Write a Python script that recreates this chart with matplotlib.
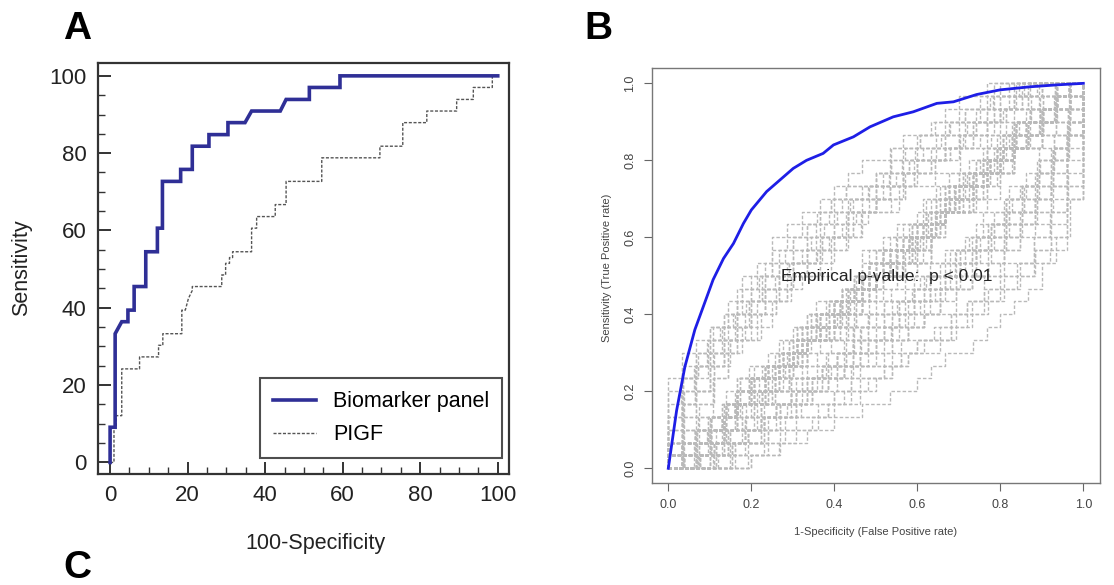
import matplotlib
matplotlib.use("Agg")
import matplotlib.pyplot as plt

plt.rcParams['font.family'] = ['Liberation Sans', 'DejaVu Sans']

# ---------------- Panel A data (step ROC vertices, percent) ----------------
bio_x = [0, 0, 1.3, 1.3, 3.0, 4.6, 4.6, 6.2, 6.2, 9.2, 9.2, 12.2, 12.2, 13.5, 13.5,
         18.2, 18.2, 21.2, 21.2, 25.5, 25.5, 30.4, 30.4, 34.8, 36.5, 43.9, 45.4,
         51.4, 51.4, 59.3, 59.3, 100]
bio_y = [0, 9.1, 9.1, 33.3, 36.4, 36.4, 39.4, 39.4, 45.5, 45.5, 54.5, 54.5, 60.6,
         60.6, 72.7, 72.7, 75.8, 75.8, 81.8, 81.8, 84.8, 84.8, 87.9, 87.9, 90.9,
         90.9, 93.9, 93.9, 97.0, 97.0, 100, 100]

pigf_x = [0, 1.0, 1.0, 1.6, 1.6, 3.0, 3.0, 7.6, 7.6, 12.5, 12.5, 13.6, 13.6, 18.5,
          18.5, 19.4, 20.2, 21.2, 21.2, 28.8, 28.8, 29.8, 29.8, 30.8, 30.8, 31.6,
          31.6, 36.5, 36.5, 37.8, 37.8, 42.6, 42.6, 45.4, 45.4, 54.6, 54.6, 69.6,
          69.6, 75.5, 75.5, 81.7, 81.7, 89.4, 89.4, 93.7, 93.7, 98.6, 98.6, 100]
pigf_y = [0, 0, 9.1, 9.1, 12.1, 12.1, 24.2, 24.2, 27.3, 27.3, 30.3, 30.3, 33.3, 33.3,
          39.4, 39.4, 42.4, 44.5, 45.5, 45.5, 48.5, 48.5, 51.5, 51.5, 53.0, 53.0,
          54.5, 54.5, 60.6, 60.6, 63.6, 63.6, 66.7, 66.7, 72.7, 72.7, 78.8, 78.8,
          81.8, 81.8, 87.9, 87.9, 90.9, 90.9, 93.9, 93.9, 97.0, 97.0, 100, 100]

a_ticks = [0, 20, 40, 60, 80, 100]
legend_labels = ["Biomarker panel", "PIGF"]

# ---------------- Panel B data ----------------
roc_fpr = [0.0, 0.02, 0.04, 0.064, 0.108, 0.133, 0.157, 0.181, 0.2, 0.237, 0.269,
           0.301, 0.333, 0.373, 0.398, 0.446, 0.486, 0.542, 0.59, 0.647, 0.687,
           0.743, 0.799, 0.871, 0.936, 1.0]
roc_tpr = [0.0, 0.15, 0.264, 0.36, 0.49, 0.545, 0.584, 0.636, 0.671, 0.719, 0.749,
           0.779, 0.80, 0.818, 0.84, 0.861, 0.887, 0.913, 0.926, 0.948, 0.952,
           0.971, 0.983, 0.991, 0.996, 1.0]

# permuted-label ROC curves: digit i = false positives before the i-th true positive,
# last digit = trailing false positives (spaces are only for readability)
perm_curves = [
    # outer envelopes
    "0000000 10111 1011111 10111 21 2112 7",
    "6222 22 21 121 111 1010 100100 000000 0",
    "00000 01011 01111 11011 12111 12121 6",
    "00001 00101 11011 11111 12111 21211 5",
    "52111 21112 11111 10110 01000 00000 0",
    "31211 21211 11111 11011 00100 00000 0",
    # upper side
    "00100 01011 10111 11021 11211 12112 4",
    "00010 10010 11110 21101 12121 11212 5",
    "01000 11010 11101 12011 21112 12111 4",
    "00001 00111 01111 11210 21121 21112 3",
    "10001 01011 01111 21110 12112 11121 3",
    "00100 10101 11011 12111 11112 21211 4",
    "00000 11010 11110 11211 12111 22112 5",
    "01010 01011 10111 11110 21112 11212 3",
    "00200 10010 20101 10120 01302 11210 4",
    "10000 02001 10210 11021 20130 21011 3",
    "00010 20100 12010 02110 31021 10211 4",
    "01002 00101 10021 20110 12201 21030 3",
    "00100 00101 01010 11012 11210 21211 6",
    "01000 00110 10101 10110 21211 12121 5",
    # upper-middle
    "20130 10211 02101 31010 20112 01102 2",
    "01201 20110 13010 21102 01210 11021 1",
    "10302 01120 10211 20101 12010 30111 1",
    "02110 31001 20121 10210 02301 10120 2",
    "11020 12101 30102 01121 10201 21011 1",
    "30101 10210 21011 01302 11010 20211 1",
    "10211 02031 10110 21200 11021 01210 2",
    "21010 11300 20112 10201 03110 11201 1",
    "01130 21010 11202 00311 21011 10120 2",
    "12001 10220 10131 02011 10201 20111 1",
    "00211 31020 11011 20130 01121 01201 2",
    "20011 20102 31101 01120 10310 11011 1",
    "11101 20021 01302 11010 21101 02110 2",
    "03011 10120 21011 01102 31001 10211 1",
    "10120 02111 30010 12101 10311 02010 2",
    "21102 01011 20131 00210 21011 10102 1",
    "12010 30101 02111 21020 10102 11210 1",
    "01021 10301 21010 11021 02110 31101 1",
    "20201 01110 13011 00211 20120 01112 2",
    "10012 21011 01201 30110 11020 12101 1",
    # diagonal
    "20120 01301 11021 30110 02102 10211 0",
    "01301 21011 10301 12011 00311 20120 0",
    "11021 13001 02102 01211 30110 10112 1",
    "30110 00221 12101 20201 01130 02111 0",
    "02102 10211 22010 03011 10031 21011 1",
    "10211 20030 11102 01301 12011 00311 0",
    "21011 02102 00311 13001 20120 11021 0",
    "01130 31001 10112 22010 01211 10301 1",
    "12011 11102 30110 00221 02111 20201 0",
    "00311 20120 01211 10211 31001 12101 0",
    "13001 01130 21011 02102 10112 03011 1",
    "20030 12011 01301 11021 00221 22010 0",
    "11102 10301 20201 01130 21011 00311 0",
    "03011 22010 10031 20120 11102 01211 1",
    "10301 00221 12011 31001 01130 10211 0",
    "22010 02111 11021 10112 20030 01301 0",
    "01211 30110 02102 12101 00311 11021 1",
    "10112 21011 00221 13001 10301 20120 0",
    "31001 01211 20030 11102 02111 12011 0",
    "00221 10031 22010 01211 21011 03011 1",
    # lower-middle
    "21120 11302 01211 20110 21011 10100 0",
    "13010 22101 10211 03121 10100 11010 0",
    "30211 10121 21010 11202 01110 10010 0",
    "22011 12030 11201 21110 10201 01100 0",
    "11301 20211 01121 30011 01101 10010 0",
    "40110 21101 12021 10111 20101 01000 0",
    "12201 30112 01021 11301 10100 10100 0",
    "21031 10211 20110 12101 01110 11000 0",
    "31201 12011 02211 10121 11001 01000 0",
    "20310 21120 10211 21011 01110 10100 0",
    # lower side
    "21121 11211 11111 11101 11010 10100 0",
    "31112 11111 21111 11110 11011 01000 0",
    "12121 21111 11111 11111 01101 00100 0",
    "22111 12111 11111 10111 11010 01000 0",
    "31211 11121 11111 11011 01100 01000 0",
    "41111 12111 11111 11111 11010 00000 0",
    "42112 11211 11111 11100 10100 00000 0",
    "51121 11111 21111 11100 01000 00000 0",
    "30212 10301 21102 10201 10100 01000 0",
    "23012 02130 11201 20110 01010 00100 0",
    "12310 20211 03101 21012 00100 10000 0",
    "40203 11021 30110 12010 10001 00000 0",
]
b_ticks = [0.0, 0.2, 0.4, 0.6, 0.8, 1.0]
b_ticklabels = ["0.0", "0.2", "0.4", "0.6", "0.8", "1.0"]

# ---------------- Figure ----------------
fig = plt.figure(figsize=(11.14, 5.85), dpi=100)

# ---- Panel A ----
axA = fig.add_axes([0.0877, 0.1897, 0.3692, 0.7031])
axA.plot(bio_x, bio_y, color='#2f2f96', lw=2.6, solid_joinstyle='miter',
         label=legend_labels[0], zorder=3)
axA.plot(pigf_x, pigf_y, color='#555555', lw=1.0, linestyle=(0, (2.2, 1.2)),
         label=legend_labels[1], zorder=2)
axA.set_xlim(-3.2, 102.9)
axA.set_ylim(-3.0, 103.4)
axA.set_xticks(a_ticks)
axA.set_yticks(a_ticks)
axA.set_xticks(range(0, 101, 5), minor=True)
axA.set_yticks(range(0, 101, 5), minor=True)
axA.tick_params(which='major', direction='in', length=9, width=1.4, labelsize=16,
                color='#333333', labelcolor='#222222')
axA.tick_params(which='minor', direction='in', length=5, width=1.0, color='#333333')
axA.tick_params(axis='x', which='major', pad=8)
axA.tick_params(axis='y', which='major', pad=8)
for s in axA.spines.values():
    s.set_linewidth(1.6)
    s.set_color('#333333')
leg = axA.legend(loc='lower right', bbox_to_anchor=(0.983, 0.039), fontsize=15.5,
                 frameon=True, fancybox=False, edgecolor='#222222', handlelength=2.0,
                 borderpad=0.6, labelspacing=0.55, handletextpad=0.8,
                 borderaxespad=0.0)
leg.get_frame().set_linewidth(1.5)
fig.text(0.2835, 1 - 543 / 585, "100-Specificity", ha='center', va='center',
         fontsize=15.5, color='#222222')
fig.text(22 / 1114, 1 - 268 / 585, "Sensitivity", ha='center', va='center',
         rotation=90, fontsize=15.5, color='#222222')

# ---- Panel B ----
axB = fig.add_axes([0.585, 0.1738, 0.4024, 0.7094])
for s in perm_curves:
    digits = [int(ch) for ch in s if ch != ' ']
    ups = len(digits) - 1
    tot = sum(digits)
    xs, ys = [0.0], [0.0]
    cx, cy = 0, 0
    for d in digits[:-1]:
        cx += d
        xs.append(cx / tot); ys.append(cy / ups)
        cy += 1
        xs.append(cx / tot); ys.append(cy / ups)
    cx += digits[-1]
    xs.append(cx / tot); ys.append(cy / ups)
    axB.plot(xs, ys, color='#b9b9b9', lw=1.0, linestyle=(0, (2.5, 1.5)), zorder=1)
axB.plot(roc_fpr, roc_tpr, color='#1e1ee6', lw=2.0, zorder=3)
axB.text(0.526, 0.498, "Empirical p-value:  p < 0.01", ha='center', va='center',
         fontsize=12.5, color='#222222', zorder=4)
axB.set_xlim(-0.04, 1.04)
axB.set_ylim(-0.039, 1.039)
axB.set_xticks(b_ticks)
axB.set_xticklabels(b_ticklabels)
axB.set_yticks(b_ticks)
axB.set_yticklabels(b_ticklabels, rotation=90, va='center')
axB.tick_params(direction='out', length=6, width=0.8, color='#666666',
                labelsize=9, labelcolor='#444444', pad=5)
for s in axB.spines.values():
    s.set_linewidth(1.0)
    s.set_color('#777777')
fig.text((668.3 + 1083.3) / 2 / 1114, 1 - 532 / 585,
         "1-Specificity (False Positive rate)", ha='center', va='center',
         fontsize=8, color='#444444')
fig.text(607 / 1114, 1 - 268 / 585, "Sensitivity (True Positive rate)",
         ha='center', va='center', rotation=90, fontsize=8, color='#444444')

# ---- Panel letters ----
fig.text(77.5 / 1114, 1 - 29 / 585, "A", ha='center', va='center', fontsize=28,
         fontweight='bold')
fig.text(598.5 / 1114, 1 - 29 / 585, "B", ha='center', va='center', fontsize=28,
         fontweight='bold')
fig.text(77 / 1114, 1 - 568 / 585, "C", ha='center', va='center', fontsize=28,
         fontweight='bold')

fig.savefig("out.png", dpi=100)
